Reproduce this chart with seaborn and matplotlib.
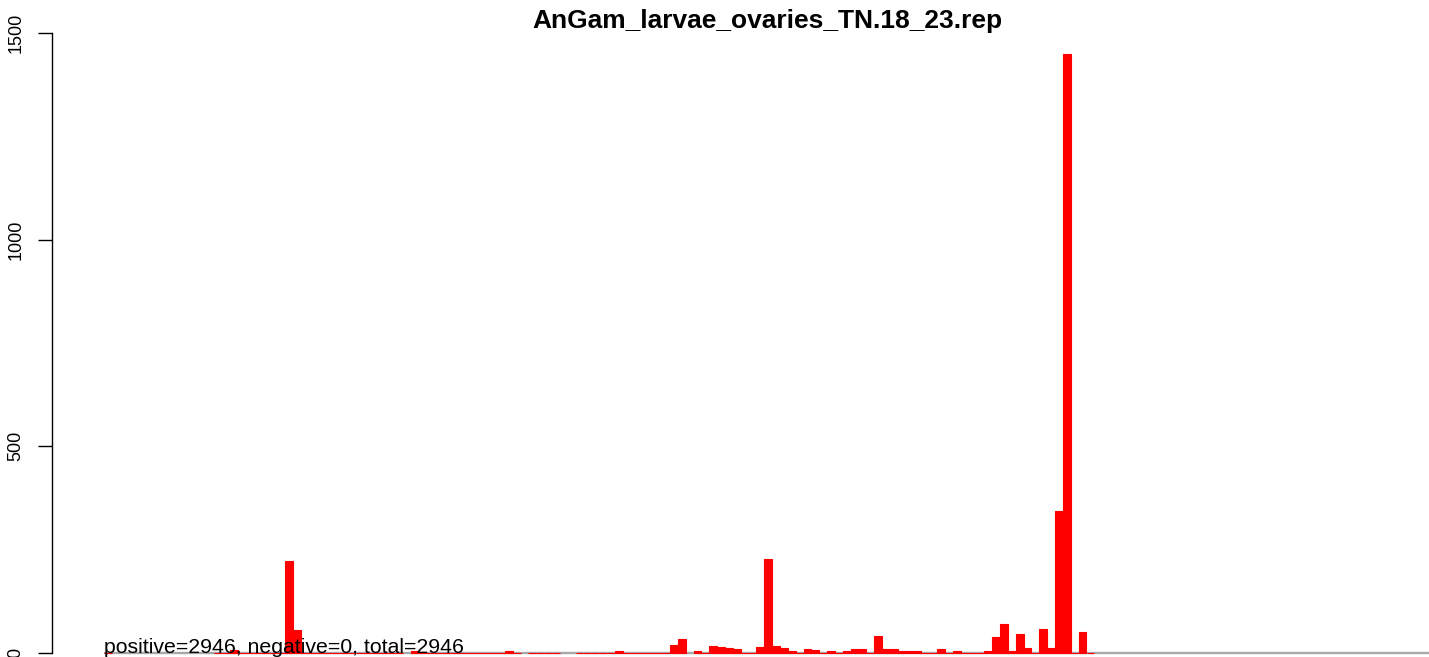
import matplotlib
matplotlib.use('Agg')
import matplotlib.pyplot as plt
import pandas as pd
import seaborn as sns

# bar heights, one per position
values = [
    1, 0, 0, 0, 0, 0, 0, 0, 0, 0,
    0, 0, 0, 0, 1, 1, 7, 1, 1, 1,
    1, 1, 1, 222, 55, 1, 1, 1, 1, 1,
    1, 1, 1, 1, 1, 1, 1, 1, 0, 5,
    1, 1, 1, 1, 1, 1, 1, 1, 1, 1,
    1, 4, 1, 0, 1, 1, 1, 1, 0, 0,
    1, 1, 1, 1, 1, 4, 1, 1, 1, 1,
    1, 1, 19, 34, 0, 4, 1, 17, 14, 12,
    9, 1, 1, 14, 228, 17, 11, 4, 1, 9,
    7, 1, 4, 1, 4, 9, 9, 1, 40, 9,
    9, 6, 6, 6, 1, 1, 9, 1, 4, 1,
    1, 1, 6, 38, 69, 4, 45, 11, 1, 57,
    11, 343, 1450, 1, 52, 1,
]
n_positions = 168
values = values + [0] * (n_positions - len(values))
positions = list(range(n_positions))

title = 'AnGam_larvae_ovaries_TN.18_23.rep'
note = 'positive=2946, negative=0, total=2946'
y_ticks = [0, 500, 1000, 1500]

df = pd.DataFrame({'pos': positions, 'count': values})

sns.set_style('white')
plt.rcParams['font.family'] = ['Liberation Sans', 'DejaVu Sans']
plt.rcParams['text.color'] = 'black'
plt.rcParams['ytick.color'] = 'black'

W, H = 1429, 657
fig = plt.figure(figsize=(W / 100, H / 100), dpi=100)
ax = fig.add_axes([52 / W, 0, 1 - 52 / W, 1])

# pixel geometry of the reference
bar_px = 7.86
x0_px = 104
y0_px = 653
px_per_unit = 620 / 1500

ax.hlines(0, -0.5, n_positions + 5, color='#a8a8a8', lw=1.7, zorder=1)
sns.barplot(data=df, x='pos', y='count', color='red', saturation=1,
            width=1, errorbar=None, edgecolor='red', linewidth=0.8,
            ax=ax, zorder=2)
# empty positions keep the grey baseline visible
for p in ax.patches:
    if p.get_height() == 0:
        p.set_linewidth(0)

ax.set_xlim(-0.5 - (x0_px - 52) / bar_px, -0.5 + (W - x0_px) / bar_px)
ax.set_ylim(-(H - y0_px) / px_per_unit, y0_px / px_per_unit)

for s in ['top', 'right', 'bottom']:
    ax.spines[s].set_visible(False)
ax.spines['left'].set_bounds(0, 1500)
ax.spines['left'].set_color('black')
ax.spines['left'].set_linewidth(1.0)
ax.set_xticks([])
ax.set_yticks(y_ticks)
ax.set_yticklabels([str(t) for t in y_ticks], rotation=90, va='center')
ax.tick_params(axis='y', left=True, length=10, width=1.0, pad=10,
               labelsize=13, colors='black', labelcolor='black')
ax.set_xlabel('')
ax.set_ylabel('')

ax.text(-0.5, 0, note, fontsize=15.3, color='black', ha='left',
        va='baseline', zorder=3)
fig.text(767 / W, 1 - 21 / H, title, fontsize=19, fontweight='bold',
         color='black', ha='center', va='center')

fig.savefig('out.png', dpi=100)
